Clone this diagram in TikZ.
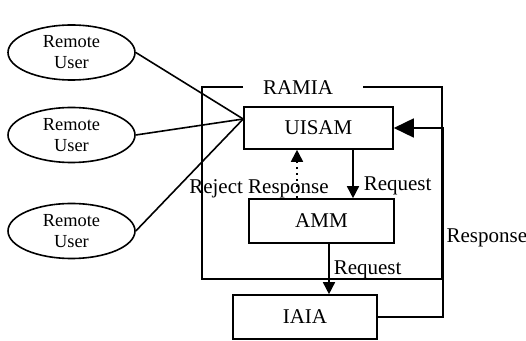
\documentclass[tikz,border=0pt]{standalone}
\usepackage{fontspec}
\setmainfont{Liberation Serif}
\usetikzlibrary{arrows.meta,shapes.geometric}

\begin{document}
\begin{tikzpicture}[x=0.5pt,y=-0.5pt,line width=0.8pt,
    user/.style={draw,ellipse,minimum width=63.5pt,minimum height=27.5pt,inner sep=0pt,
        align=center,font=\fontsize{9.2}{10.5}\selectfont},
    unit/.style={draw,rectangle,inner sep=0pt,font=\fontsize{10.5}{12}\selectfont},
    lbl/.style={font=\fontsize{10.5}{12}\selectfont,inner sep=0pt},
    req/.style={-{Triangle[length=6pt,width=6pt]}},
    resp/.style={-{Triangle[length=10pt,width=9.5pt]}}]
    \useasboundingbox (0,0) rectangle (526,341);

    % Remote users
    \node[user] (u1) at (71.5,52.5) {Remote\\User};
    \node[user] (u2) at (71.5,135) {Remote\\User};
    \node[user] (u3) at (71.5,231) {Remote\\User};

    % RAMIA frame, open at the top for its title
    \draw (243,87) -- (202,87) -- (202,279) -- (442,279) -- (442,87) -- (363,87);
    \node[lbl] (ramia) at (298,88) {RAMIA};

    \node[unit,minimum width=74.5pt,minimum height=21pt] (uisam) at (318.5,128) {UISAM};
    \node[unit,minimum width=72.5pt,minimum height=22pt] (amm) at (321.5,221) {AMM};
    \node[unit,minimum width=72pt,minimum height=22pt] (iaia) at (305,317) {IAIA};

    % users meet at UISAM
    \coordinate (join) at ([yshift=4.5pt]uisam.west);
    \draw (u1.east) -- (join);
    \draw (u2.east) -- (join);
    \draw (u3.east) -- (join);

    \draw[req] ([xshift=17.25pt]uisam.south) coordinate (r1)
        -- node[lbl,pos=0.74,anchor=west,xshift=5pt] {Request} (r1 |- amm.north);
    \draw[req,dotted,line width=0.9pt] ([xshift=-12.25pt]amm.north) coordinate (r2)
        -- node[lbl,pos=0.2,xshift=-19pt] {Reject Response} (r2 |- uisam.south);
    \draw[req] ([xshift=3.75pt]amm.south) coordinate (r3)
        -- node[lbl,pos=0.52,anchor=west,xshift=2pt] {Request} (r3 |- iaia.north);

    \coordinate (back) at ([xshift=24.5pt]uisam.east);
    \draw[resp] (iaia.east) -| node[lbl,pos=0.71,anchor=west,xshift=1.5pt] {Response} (back)
        -- (uisam.east);
\end{tikzpicture}
\end{document}
